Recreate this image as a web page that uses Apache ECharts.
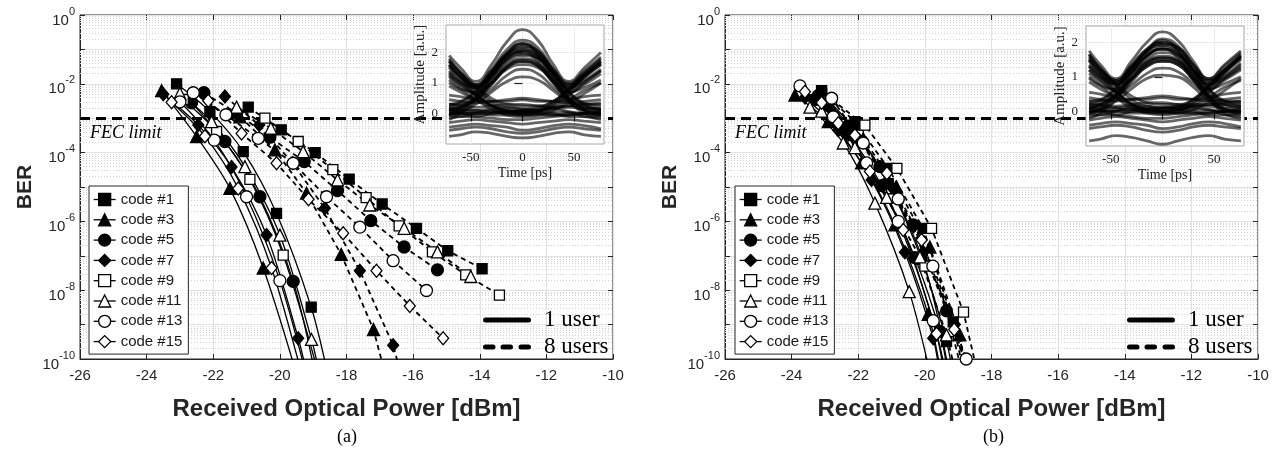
<!DOCTYPE html>
<html>
<head>
<meta charset="utf-8">
<script src="https://cdn.jsdelivr.net/npm/echarts@6/dist/echarts.min.js"></script>
<style>
  html, body { margin: 0; padding: 0; background: #fff; }
  #chart { width: 1279px; height: 453px; }
</style>
</head>
<body>
<div id="chart"></div>
<script>
// ---- legend / marker definitions ----
const codeNames = ['code #1', 'code #3', 'code #5', 'code #7', 'code #9', 'code #11', 'code #13', 'code #15'];
const codeSymbols = ['rect', 'triangle', 'circle', 'diamond', 'rect', 'triangle', 'circle', 'diamond'];
const codeFilled = [true, true, true, true, false, false, false, false];
const userNames = ['1 user', '8 users'];

// ---- tick labels ----
const berTickExponents = [0, -2, -4, -6, -8, -10];
const eyeTimeTicks = [-50, 0, 50];
const eyeAmpTicks = [0, 1, 2];

// ---- panel (a): measured BER, [received power dBm, BER] ----
const berA_1user = [
  [[-23.1, 1.0e-2], [-22.1, 1.55e-3], [-21.1, 1.07e-4], [-20.1, 1.7e-6], [-19.06, 3.2e-9]],
  [[-23.55, 6.3e-3], [-22.5, 2.9e-4], [-21.5, 9.1e-6], [-20.5, 4.4e-8]],
  [[-22.65, 2.8e-3], [-21.65, 2.1e-4], [-20.6, 5.2e-6], [-19.6, 1.8e-8]],
  [[-23.5, 5.0e-3], [-22.45, 6.3e-4], [-21.45, 3.8e-5], [-20.4, 4.0e-7], [-19.45, 4.0e-10]],
  [[-22.9, 3.5e-3], [-21.9, 4.1e-4], [-20.9, 1.66e-5], [-19.9, 1.05e-7]],
  [[-23.0, 5.2e-3], [-22.05, 7.9e-4], [-21.05, 3.9e-5], [-20.0, 4.0e-7], [-19.05, 3.7e-10]],
  [[-23.0, 3.0e-3], [-21.97, 2.3e-4], [-21.0, 5.2e-6], [-20.0, 1.9e-8]],
  [[-23.25, 2.9e-3], [-22.25, 3.0e-4], [-21.25, 9.1e-6], [-20.25, 4.4e-8]]
];
// where each fitted curve runs out through the bottom of the plot
const fitEndA_1user = [[-18.55, 3.2e-11], [-19.45, 2.5e-11], [-18.95, 4.0e-11], [-19.15, 2.5e-11],
                       [-18.85, 4.0e-11], [-18.8, 3.2e-11], [-19.2, 3.2e-11], [-19.3, 2.5e-11]];

const berA_8users = [
  [[-20.95, 2.1e-3], [-19.96, 4.6e-4], [-18.94, 1.0e-4], [-17.92, 1.7e-5], [-16.93, 3.2e-6], [-15.9, 6.3e-7], [-14.96, 1.4e-7], [-13.93, 4.2e-8]],
  [[-21.2, 1.1e-3], [-20.15, 1.2e-4], [-19.2, 6.6e-6], [-18.16, 1.1e-7], [-17.19, 7.2e-10]],
  [[-22.28, 5.5e-3], [-21.3, 1.4e-3], [-20.3, 2.8e-4], [-19.27, 5.5e-5], [-18.27, 7.9e-6], [-17.27, 1.05e-6], [-16.27, 1.8e-7], [-15.27, 3.9e-8]],
  [[-21.65, 4.3e-3], [-20.62, 6.3e-4], [-19.62, 5.0e-5], [-18.65, 2.4e-6], [-17.6, 3.7e-8], [-16.6, 2.5e-10]],
  [[-20.45, 1.0e-3], [-19.45, 2.1e-4], [-18.41, 3.2e-5], [-17.41, 4.9e-6], [-16.42, 7.4e-7], [-15.42, 1.3e-7], [-14.42, 2.8e-8], [-13.41, 7.2e-9]],
  [[-21.3, 2.1e-3], [-20.27, 5.1e-4], [-19.3, 1.07e-4], [-18.27, 1.6e-5], [-17.3, 3.0e-6], [-16.27, 6.3e-7], [-15.27, 1.3e-7], [-14.27, 2.5e-8]],
  [[-22.6, 5.5e-3], [-21.62, 1.26e-3], [-20.65, 2.6e-4], [-19.6, 4.9e-5], [-18.6, 5.2e-6], [-17.6, 6.8e-7], [-16.6, 7.2e-8], [-15.6, 9.8e-9]],
  [[-22.15, 3.2e-3], [-21.15, 3.6e-4], [-20.1, 4.9e-5], [-19.14, 4.4e-6], [-18.1, 4.5e-7], [-17.1, 3.7e-8], [-16.1, 3.5e-9], [-15.1, 4.0e-10]]
];
const fitEndA_8users = [null, [-16.85, 4.0e-11], null, [-16.35, 3.2e-11], null, null, null, null];

// ---- panel (b) ----
const berB_1user = [
  [[-23.1, 5.2e-3], [-22.1, 4.5e-4], [-21.1, 1.26e-5], [-20.1, 7.9e-8], [-19.35, 3.2e-10]],
  [[-23.9, 4.7e-3], [-22.9, 7.9e-4], [-21.9, 5.0e-5], [-20.9, 7.9e-7], [-19.9, 2.0e-9]],
  [[-23.3, 3.5e-3], [-22.3, 3.5e-4], [-21.3, 1.1e-5], [-20.3, 8.9e-8], [-19.55, 6.3e-10]],
  [[-23.6, 4.0e-3], [-22.6, 4.5e-4], [-21.6, 1.6e-5], [-20.6, 1.26e-7], [-19.75, 4.0e-10]],
  [[-23.0, 3.2e-3], [-22.0, 3.2e-4], [-21.0, 8.9e-6], [-20.0, 5.0e-8]],
  [[-23.45, 2.1e-3], [-22.45, 1.9e-4], [-21.5, 3.4e-6], [-20.47, 9.1e-9]],
  [[-23.75, 8.7e-3], [-22.75, 1.1e-3], [-21.75, 5.0e-5], [-20.8, 1.0e-6], [-19.75, 1.3e-9]],
  [[-23.6, 5.9e-3], [-22.6, 7.1e-4], [-21.65, 2.8e-5], [-20.65, 5.6e-7], [-19.65, 5.4e-10]]
];
const fitEndB_1user = [[-19.15, 3.2e-11], [-19.5, 3.2e-11], [-19.3, 3.2e-11], [-19.55, 3.2e-11],
                       [-19.25, 3.2e-11], [-19.8, 2.5e-11], [-19.4, 3.2e-11], [-19.35, 3.2e-11]];

const berB_8users = [
  [[-23.1, 6.3e-3], [-22.1, 7.9e-4], [-21.1, 3.5e-5], [-20.05, 6.3e-7], [-19.15, 1.2e-9]],
  [[-22.85, 2.5e-3], [-21.85, 2.5e-4], [-20.85, 1.0e-5], [-19.85, 1.8e-7], [-18.95, 5.0e-10]],
  [[-23.2, 4.5e-3], [-22.3, 5.9e-4], [-21.35, 3.9e-5], [-20.35, 7.9e-7], [-19.35, 2.5e-9]],
  [[-23.0, 2.5e-3], [-22.0, 2.5e-4], [-21.0, 1.0e-5], [-20.05, 1.26e-7], [-19.1, 1.0e-9]],
  [[-22.8, 3.5e-3], [-21.8, 6.3e-4], [-20.84, 3.5e-5], [-19.8, 6.3e-7], [-18.84, 2.3e-9]],
  [[-23.1, 1.6e-3], [-22.1, 1.4e-4], [-21.15, 5.0e-6], [-20.15, 9.3e-8], [-19.35, 5.0e-10]],
  [[-22.8, 3.8e-3], [-21.85, 1.9e-4], [-20.8, 4.5e-6], [-19.76, 5.0e-8], [-18.76, 1.0e-10]],
  [[-23.1, 2.8e-3], [-22.1, 3.2e-4], [-21.14, 2.5e-5], [-20.1, 2.9e-7], [-19.12, 7.2e-10]]
];
const fitEndB_8users = [[-18.7, 3.2e-11], [-18.75, 3.2e-11], [-18.85, 3.2e-11], [-18.75, 3.2e-11],
                        [-18.4, 3.2e-11], [-19.05, 3.2e-11], [-18.55, 2.5e-11], [-18.8, 3.2e-11]];

const fecLimit = 1e-3;

// ---- eye diagram insets: amplitude [a.u.] sampled at these times [ps] ----
const eyeTime = [-71, -60, -45, -30, -15, 0, 15, 30, 45, 60, 76];
const eyeTracesA = [
  [1.9, 1.5, 1.05, 1.6, 2.35, 2.75, 2.4, 1.6, 1.05, 1.5, 2.0],
  [1.7, 1.3, 0.95, 1.45, 2.1, 2.4, 2.15, 1.45, 0.95, 1.35, 1.8],
  [1.5, 1.15, 0.85, 1.3, 1.9, 2.15, 1.95, 1.35, 0.85, 1.2, 1.6],
  [1.3, 1.0, 0.8, 1.2, 1.75, 1.95, 1.8, 1.2, 0.8, 1.05, 1.4],
  [0.1, 0.25, 0.6, 1.2, 1.8, 2.05, 1.85, 1.25, 0.6, 0.25, 0.1],
  [-0.1, 0.1, 0.5, 1.05, 1.6, 1.8, 1.65, 1.1, 0.5, 0.1, -0.1],
  [0.2, 0.35, 0.7, 1.3, 1.95, 2.25, 2.0, 1.35, 0.7, 0.3, 0.15],
  [1.6, 1.2, 0.9, 1.3, 1.85, 2.0, 1.7, 1.05, 0.45, 0.1, -0.05],
  [-0.05, 0.15, 0.5, 1.1, 1.7, 1.9, 1.8, 1.3, 0.95, 1.3, 1.7],
  [1.8, 1.35, 0.95, 1.4, 2.0, 2.3, 1.95, 1.2, 0.5, 0.15, 0.05],
  [0.05, 0.2, 0.55, 1.2, 1.9, 2.2, 2.05, 1.45, 1.0, 1.4, 1.85],
  [0.0, 0.05, 0.3, 0.7, 1.05, 1.2, 1.1, 0.75, 0.35, 0.1, 0.0],
  [0.3, 0.3, 0.45, 0.8, 1.25, 1.45, 1.3, 0.85, 0.45, 0.3, 0.3],
  [1.0, 0.8, 0.7, 1.0, 1.45, 1.6, 1.5, 1.05, 0.7, 0.85, 1.1],
  [0.15, 0.2, 0.45, 0.95, 1.5, 1.7, 1.55, 1.0, 0.45, 0.2, 0.15],
  [1.2, 0.9, 0.65, 1.0, 1.55, 1.75, 1.6, 1.1, 0.7, 0.95, 1.3],
  [1.55, 1.2, 0.9, 1.35, 1.95, 2.3, 2.05, 1.4, 0.9, 1.25, 1.65],
  [1.35, 1.05, 0.85, 1.25, 1.8, 2.05, 1.85, 1.3, 0.85, 1.1, 1.45],
  [0.3, 0.4, 0.75, 1.35, 1.95, 2.1, 1.9, 1.3, 0.7, 0.35, 0.25],
  [-0.2, 0.0, 0.4, 0.95, 1.5, 1.7, 1.55, 1.0, 0.4, 0.0, -0.2],
  [0.0, 0.0, 0.05, 0.05, 0.0, 0.0, 0.0, 0.05, 0.05, 0.0, 0.0],
  [0.3, 0.25, 0.2, 0.25, 0.3, 0.3, 0.25, 0.2, 0.25, 0.3, 0.35],
  [-0.3, -0.25, -0.2, -0.25, -0.3, -0.35, -0.3, -0.25, -0.2, -0.25, -0.3],
  [-0.55, -0.5, -0.45, -0.5, -0.6, -0.65, -0.6, -0.5, -0.45, -0.5, -0.55],
  [1.7, 1.3, 0.8, 0.4, 0.2, 0.15, 0.2, 0.4, 0.8, 1.25, 1.65],
  [1.4, 1.05, 0.6, 0.25, 0.05, 0.0, 0.05, 0.25, 0.6, 1.0, 1.4],
  [1.6, 1.2, 0.65, 0.25, 0.05, -0.05, -0.05, -0.05, 0.0, 0.0, 0.0],
  [0.0, 0.0, 0.0, -0.05, -0.05, -0.05, 0.05, 0.3, 0.7, 1.2, 1.7],
  [0.45, 0.4, 0.35, 0.4, 0.45, 0.5, 0.45, 0.4, 0.35, 0.4, 0.45],
  [-0.15, -0.1, 0.0, 0.1, 0.1, 0.05, 0.1, 0.15, 0.05, -0.1, -0.15],
  [0.15, 0.1, 0.1, 0.15, 0.2, 0.15, 0.1, 0.15, 0.2, 0.15, 0.1],
  [-0.45, -0.4, -0.35, -0.4, -0.45, -0.55, -0.5, -0.4, -0.35, -0.4, -0.5],
  [-0.75, -0.7, -0.6, -0.65, -0.75, -0.8, -0.75, -0.65, -0.6, -0.7, -0.75],
  [0.6, 0.55, 0.45, 0.4, 0.4, 0.45, 0.4, 0.4, 0.45, 0.55, 0.6],
  [0.9, 0.7, 0.45, 0.25, 0.1, 0.05, 0.1, 0.2, 0.45, 0.75, 1.0],
  [1.1, 0.8, 0.45, 0.15, -0.05, -0.1, -0.05, 0.1, 0.35, 0.65, 1.0],
  [1.75, 1.35, 0.9, 0.5, 0.3, 0.25, 0.25, 0.4, 0.8, 1.3, 1.75],
  [0.05, 0.0, -0.1, -0.15, -0.2, -0.2, -0.15, -0.1, -0.05, 0.0, 0.05],
  [-0.05, -0.1, -0.1, 0.0, 0.05, 0.1, 0.05, 0.0, -0.1, -0.1, -0.05],
  [0.2, 0.15, 0.1, 0.05, 0.05, 0.1, 0.15, 0.2, 0.25, 0.2, 0.15],
  [1.25, 0.95, 0.6, 0.3, 0.1, 0.05, 0.0, -0.05, -0.05, 0.0, 0.05],
  [0.1, 0.05, 0.0, 0.0, 0.05, 0.05, 0.1, 0.35, 0.75, 1.2, 1.6]
];
const eyeTracesB = [
  [1.75, 1.35, 0.95, 1.45, 2.0, 2.3, 2.05, 1.45, 0.95, 1.35, 1.75],
  [1.55, 1.2, 0.9, 1.35, 1.8, 2.0, 1.85, 1.35, 0.9, 1.2, 1.6],
  [1.35, 1.05, 0.8, 1.2, 1.6, 1.8, 1.65, 1.2, 0.8, 1.05, 1.4],
  [1.2, 0.95, 0.75, 1.1, 1.45, 1.6, 1.5, 1.1, 0.75, 0.95, 1.25],
  [0.1, 0.2, 0.55, 1.1, 1.6, 1.8, 1.65, 1.1, 0.55, 0.2, 0.1],
  [-0.1, 0.05, 0.45, 0.95, 1.4, 1.55, 1.45, 1.0, 0.45, 0.05, -0.1],
  [0.2, 0.3, 0.65, 1.2, 1.75, 1.95, 1.8, 1.2, 0.65, 0.3, 0.2],
  [1.5, 1.15, 0.85, 1.25, 1.65, 1.8, 1.55, 0.95, 0.4, 0.05, -0.05],
  [-0.05, 0.1, 0.45, 1.0, 1.5, 1.7, 1.6, 1.2, 0.9, 1.2, 1.6],
  [1.65, 1.25, 0.9, 1.3, 1.8, 2.05, 1.75, 1.1, 0.45, 0.1, 0.0],
  [0.05, 0.2, 0.5, 1.1, 1.7, 1.95, 1.85, 1.35, 0.95, 1.3, 1.7],
  [0.0, 0.05, 0.3, 0.65, 0.95, 1.05, 1.0, 0.7, 0.3, 0.05, 0.0],
  [0.3, 0.3, 0.45, 0.75, 1.1, 1.25, 1.15, 0.8, 0.45, 0.3, 0.3],
  [0.95, 0.75, 0.65, 0.95, 1.3, 1.45, 1.35, 0.95, 0.65, 0.8, 1.0],
  [0.15, 0.2, 0.4, 0.9, 1.35, 1.5, 1.4, 0.9, 0.4, 0.2, 0.15],
  [1.1, 0.85, 0.6, 0.95, 1.4, 1.55, 1.45, 1.0, 0.65, 0.9, 1.2],
  [1.45, 1.1, 0.85, 1.3, 1.75, 2.1, 1.9, 1.3, 0.85, 1.15, 1.5],
  [1.3, 1.0, 0.8, 1.15, 1.6, 1.85, 1.7, 1.2, 0.8, 1.0, 1.35],
  [0.3, 0.35, 0.7, 1.25, 1.75, 1.9, 1.75, 1.2, 0.65, 0.3, 0.25],
  [-0.2, -0.05, 0.35, 0.85, 1.3, 1.45, 1.35, 0.9, 0.35, -0.05, -0.2],
  [0.0, 0.0, 0.05, 0.05, 0.0, 0.0, 0.0, 0.05, 0.05, 0.0, 0.0],
  [0.25, 0.2, 0.15, 0.2, 0.25, 0.25, 0.2, 0.15, 0.2, 0.25, 0.3],
  [-0.25, -0.2, -0.15, -0.2, -0.25, -0.3, -0.25, -0.2, -0.15, -0.2, -0.25],
  [-0.5, -0.45, -0.4, -0.45, -0.55, -0.6, -0.55, -0.45, -0.4, -0.45, -0.5],
  [1.6, 1.2, 0.75, 0.35, 0.15, 0.1, 0.15, 0.35, 0.75, 1.15, 1.55],
  [1.3, 1.0, 0.55, 0.2, 0.05, 0.0, 0.05, 0.2, 0.55, 0.95, 1.3],
  [1.5, 1.1, 0.6, 0.2, 0.0, -0.05, -0.05, -0.05, 0.0, 0.0, 0.0],
  [0.0, 0.0, 0.0, -0.05, -0.05, -0.05, 0.0, 0.25, 0.65, 1.1, 1.6],
  [0.4, 0.35, 0.3, 0.35, 0.4, 0.45, 0.4, 0.35, 0.3, 0.35, 0.4],
  [-0.15, -0.1, 0.0, 0.1, 0.1, 0.05, 0.1, 0.1, 0.05, -0.1, -0.15],
  [0.1, 0.1, 0.1, 0.15, 0.15, 0.1, 0.1, 0.15, 0.15, 0.1, 0.1],
  [-0.4, -0.35, -0.3, -0.35, -0.4, -0.5, -0.45, -0.35, -0.3, -0.35, -0.45],
  [-0.85, -0.8, -0.7, -0.75, -0.85, -0.95, -0.85, -0.75, -0.7, -0.8, -0.85],
  [0.55, 0.5, 0.4, 0.35, 0.35, 0.4, 0.35, 0.35, 0.4, 0.5, 0.55],
  [0.85, 0.65, 0.4, 0.2, 0.05, 0.0, 0.05, 0.15, 0.4, 0.7, 0.9],
  [1.0, 0.75, 0.4, 0.1, -0.05, -0.1, -0.05, 0.05, 0.3, 0.6, 0.95],
  [1.65, 1.25, 0.8, 0.45, 0.25, 0.2, 0.2, 0.35, 0.75, 1.2, 1.65],
  [0.05, 0.0, -0.1, -0.15, -0.2, -0.2, -0.15, -0.1, -0.05, 0.0, 0.05],
  [-0.05, -0.1, -0.1, 0.0, 0.05, 0.1, 0.05, 0.0, -0.1, -0.1, -0.05],
  [0.2, 0.15, 0.1, 0.05, 0.05, 0.1, 0.15, 0.2, 0.2, 0.2, 0.15],
  [1.2, 0.9, 0.55, 0.25, 0.05, 0.0, -0.05, -0.05, -0.05, 0.0, 0.05],
  [0.1, 0.05, 0.0, 0.0, 0.0, 0.05, 0.1, 0.3, 0.7, 1.15, 1.55]
];

// ---- styling ----
const SANS = 'Liberation Sans, Arial, sans-serif';
const SERIF = 'Liberation Serif, Times New Roman, serif';
const INK = '#262626';
const symbolSizes = { rect: 10, triangle: 12, circle: 12, diamond: [11, 13] };
const INSET_LAYER = 1;   // insets live on their own canvas layer above the main plots

// dotted minor grid at 2..9 x 10^n
const minorBer = [];
for (let n = -10; n < 0; n++) for (let k = 2; k <= 9; k++) minorBer.push(k * Math.pow(10, n));

function berLabel(v) {
  const e = Math.round(Math.log10(v));
  return berTickExponents.indexOf(e) >= 0 ? '{b|10}{s|' + e + '}' : '';
}

function codeSeries(pts, end, idx, axis, dashed) {
  const data = pts.map(p => [p[0], p[1]]);
  if (end) data.push({ value: end, symbol: 'none' });
  return {
    type: 'line', name: codeNames[idx], xAxisIndex: axis, yAxisIndex: axis,
    data: data,
    symbol: codeSymbols[idx], symbolSize: symbolSizes[codeSymbols[idx]],
    showAllSymbol: true,
    smooth: dashed ? false : 0.3,
    lineStyle: { color: '#000', width: dashed ? 1.8 : 1.3, type: dashed ? [5, 4] : 'solid' },
    itemStyle: { color: codeFilled[idx] ? '#000' : '#fff', borderColor: '#000', borderWidth: 1.3 },
    emphasis: { disabled: true },
    z: 3, animation: false
  };
}

const series = [];
const groups = [
  [berA_1user, fitEndA_1user, 0, false],
  [berB_1user, fitEndB_1user, 1, false],
  [berA_8users, fitEndA_8users, 0, true],
  [berB_8users, fitEndB_8users, 1, true]
];
groups.forEach(g => g[0].forEach((pts, i) => series.push(codeSeries(pts, g[1][i], i, g[2], g[3]))));

// legend entries for the user-count line styles
series.push({ type: 'line', name: userNames[0], xAxisIndex: 0, yAxisIndex: 0, data: [], symbol: 'none', lineStyle: { color: '#000', width: 5 }, itemStyle: { color: '#000' } });
series.push({ type: 'line', name: userNames[1], xAxisIndex: 0, yAxisIndex: 0, data: [], symbol: 'none', lineStyle: { color: '#000', width: 5, type: 'dashed' }, itemStyle: { color: '#000' } });

// minor grid and FEC threshold for both main panels
[0, 1].forEach(a => {
  series.push({
    type: 'line', xAxisIndex: a, yAxisIndex: a, data: [], silent: true, z: 1,
    markLine: {
      z: 1, silent: true, symbol: 'none', animation: false, precision: 20, label: { show: false },
      lineStyle: { color: '#d2d2d2', type: [1, 2], width: 1 },
      emphasis: { disabled: true },
      data: minorBer.map(v => ({ yAxis: v }))
    }
  });
  series.push({
    type: 'line', xAxisIndex: a, yAxisIndex: a, data: [], silent: true, z: 2,
    markLine: {
      z: 2, silent: true, symbol: 'none', animation: false, precision: 20,
      lineStyle: { color: '#000', type: [10, 6], width: 3 },
      emphasis: { disabled: true },
      label: {
        show: true, position: 'insideStartBottom', formatter: 'FEC limit',
        fontFamily: SERIF, fontStyle: 'italic', fontSize: 18, color: '#000', distance: [10, 6]
      },
      data: [{ yAxis: fecLimit }]
    }
  });
});

// eye diagram traces
[[eyeTracesA, 2], [eyeTracesB, 3]].forEach(([traces, a]) => {
  traces.forEach(tr => series.push({
    type: 'line', xAxisIndex: a, yAxisIndex: a, silent: true, animation: false,
    data: tr.map((v, j) => [eyeTime[j], v]),
    smooth: 0.5, symbol: 'none',
    lineStyle: { color: 'rgba(0,0,0,0.6)', width: 2.8 },
    zlevel: INSET_LAYER, z: 7
  }));
});

function mainX(i) {
  return {
    type: 'value', gridIndex: i, min: -26, max: -10, interval: 2,
    axisLine: { show: true, lineStyle: { color: INK, width: 1 } },
    axisTick: { show: true, inside: true, length: 5, lineStyle: { color: INK } },
    axisLabel: { fontFamily: SANS, fontSize: 15, color: INK, margin: 9 },
    splitLine: { show: true, lineStyle: { color: '#e2e2e2', width: 1 } },
    name: 'Received Optical Power [dBm]', nameLocation: 'middle', nameGap: 38,
    nameTextStyle: { fontFamily: SANS, fontWeight: 'bold', fontSize: 24, color: INK }
  };
}
// tick-only mirror axes on the top and right edges of each panel
function mirrorX(i) {
  return {
    type: 'value', gridIndex: i, position: 'top', min: -26, max: -10, interval: 2,
    axisLine: { show: false }, axisLabel: { show: false }, splitLine: { show: false },
    axisTick: { show: true, inside: true, length: 5, lineStyle: { color: INK } }
  };
}
function mainY(i) {
  return {
    type: 'log', logBase: 10, gridIndex: i, min: 1e-10, max: 1, interval: 1,
    axisLine: { show: true, lineStyle: { color: INK, width: 1 } },
    axisTick: { show: true, inside: true, length: 5, lineStyle: { color: INK } },
    axisLabel: {
      formatter: berLabel, margin: 5, padding: [4, 0, 0, 0],
      rich: {
        b: { fontFamily: SANS, fontSize: 15, color: INK, lineHeight: 22, verticalAlign: 'bottom' },
        s: { fontFamily: SANS, fontSize: 11, color: INK, lineHeight: 22, verticalAlign: 'top' }
      }
    },
    splitLine: { show: true, lineStyle: { color: '#e2e2e2', width: 1 } },
    name: 'BER', nameLocation: 'middle', nameGap: 44, nameRotate: 90,
    nameTextStyle: { fontFamily: SANS, fontWeight: 'bold', fontSize: 21, color: INK }
  };
}
function mirrorY(i) {
  return {
    type: 'log', logBase: 10, gridIndex: i, position: 'right', min: 1e-10, max: 1, interval: 1,
    axisLine: { show: false }, axisLabel: { show: false }, splitLine: { show: false },
    axisTick: { show: true, inside: true, length: 5, lineStyle: { color: INK } }
  };
}
function eyeX(i) {
  return {
    type: 'value', gridIndex: i, min: -74, max: 79, zlevel: INSET_LAYER, z: 6,
    axisLine: { show: false },
    axisTick: { show: true, customValues: eyeTimeTicks, length: 8, lineStyle: { color: '#222', width: 1.2 } },
    axisLabel: { customValues: eyeTimeTicks, fontFamily: SERIF, fontSize: 13, color: '#222', margin: 7 },
    splitLine: { show: true, lineStyle: { color: '#ececec' } },
    name: 'Time [ps]', nameLocation: 'middle', nameGap: 22,
    nameTextStyle: { fontFamily: SERIF, fontSize: 14, color: '#222' }
  };
}
function eyeY(i, top) {
  return {
    type: 'value', gridIndex: i, min: -1, max: top, zlevel: INSET_LAYER, z: 6,
    axisLine: { show: false },
    axisTick: { show: true, customValues: eyeAmpTicks, length: 8, lineStyle: { color: '#222', width: 1.2 } },
    axisLabel: { customValues: eyeAmpTicks, fontFamily: SERIF, fontSize: 13, color: '#222', margin: 8 },
    splitLine: { show: true, lineStyle: { color: '#ececec' } },
    name: 'Amplitude [a.u.]', nameLocation: 'middle', nameGap: 16, nameRotate: 90,
    nameTextStyle: { fontFamily: SERIF, fontSize: 15, color: '#222', padding: [0, 0, 0, 20] }
  };
}

function codeLegend(left) {
  return {
    orient: 'vertical', left: left, top: 186, selectedMode: false,
    itemWidth: 22, itemHeight: 15, itemGap: 5.3, padding: [6, 6, 5, 4],
    backgroundColor: '#fff', borderColor: INK, borderWidth: 1, z: 10,
    textStyle: { fontFamily: SANS, fontSize: 15, color: '#1a1a1a' },
    data: codeNames.map((n, i) => ({
      name: n,
      itemStyle: { color: codeFilled[i] ? '#000' : '#fff', borderColor: '#000', borderWidth: 1.3 },
      lineStyle: { color: '#000', width: 1.3 }
    }))
  };
}
function userLegend(left) {
  return {
    orient: 'vertical', left: left, top: 303, selectedMode: false,
    itemWidth: 48, itemHeight: 5, itemGap: 3, z: 10,
    textStyle: { fontFamily: SERIF, fontSize: 23, color: '#000', lineHeight: 24, padding: [0, 0, 0, 8] },
    data: [
      { name: userNames[0], icon: 'path://M2.5,0H45.5A2.5,2.5,0,0,1,45.5,5H2.5A2.5,2.5,0,0,1,2.5,0Z', itemStyle: { color: '#000' } },
      { name: userNames[1], icon: 'path://M2.5,0H10A2.5,2.5,0,0,1,10,5H2.5A2.5,2.5,0,0,1,2.5,0Z M20,0H27.5A2.5,2.5,0,0,1,27.5,5H20A2.5,2.5,0,0,1,20,0Z M38,0H45.5A2.5,2.5,0,0,1,45.5,5H38A2.5,2.5,0,0,1,38,0Z', itemStyle: { color: '#000' } }
    ]
  };
}

const option = {
  backgroundColor: '#fff',
  animation: false,
  grid: [
    { left: 80, top: 15, width: 533, height: 344, show: true, backgroundColor: 'transparent', borderColor: INK, borderWidth: 1 },
    { left: 725, top: 15, width: 533, height: 344, show: true, backgroundColor: 'transparent', borderColor: INK, borderWidth: 1 },
    { left: 446, top: 25, width: 158, height: 119, show: true, backgroundColor: '#fff', borderColor: '#a8a8a8', borderWidth: 1, zlevel: INSET_LAYER },
    { left: 1086, top: 26, width: 158, height: 120, show: true, backgroundColor: '#fff', borderColor: '#a8a8a8', borderWidth: 1, zlevel: INSET_LAYER }
  ],
  xAxis: [mainX(0), mainX(1), eyeX(2), eyeX(3), mirrorX(0), mirrorX(1)],
  yAxis: [mainY(0), mainY(1), eyeY(2, 2.9), eyeY(3, 2.47), mirrorY(0), mirrorY(1)],
  legend: [codeLegend(89), codeLegend(735), userLegend(478), userLegend(1122)],
  graphic: [
    { type: 'text', left: 337, top: 428, style: { text: '(a)', font: '18px ' + SERIF, fill: '#000' } },
    { type: 'text', left: 983, top: 428, style: { text: '(b)', font: '18px ' + SERIF, fill: '#000' } }
  ],
  series: series
};

const chart = echarts.init(document.getElementById('chart'), null, { renderer: 'canvas' });
chart.setOption(option);
</script>
</body>
</html>
